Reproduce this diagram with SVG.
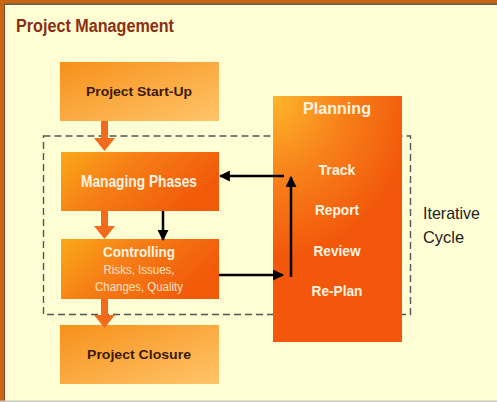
<svg xmlns="http://www.w3.org/2000/svg" width="497" height="402" viewBox="0 0 497 402">
<defs>
<linearGradient id="gEnd" x1="0" y1="0" x2="1" y2="1">
<stop offset="0" stop-color="#F7901A"/>
<stop offset="1" stop-color="#FFC56A"/>
</linearGradient>
<linearGradient id="gMid" x1="0" y1="0" x2="1" y2="0.4">
<stop offset="0" stop-color="#FBA919"/>
<stop offset="0.45" stop-color="#F67E16"/>
<stop offset="1" stop-color="#F25A0A"/>
</linearGradient>
<radialGradient id="gPlan" cx="0" cy="0" r="1.1" gradientTransform="scale(1,0.6)">
<stop offset="0" stop-color="#FDB62B"/>
<stop offset="0.5" stop-color="#F8811A"/>
<stop offset="1" stop-color="#F2570B"/>
</radialGradient>
<marker id="ah" viewBox="0 0 10 10" refX="9" refY="5" markerWidth="4.4" markerHeight="4.4" orient="auto" markerUnits="strokeWidth">
<path d="M0,0 L10,5 L0,10 z" fill="#000"/>
</marker>
<style>
.dark{font-family:"Liberation Sans",Arial,sans-serif;font-weight:bold;fill:#3A1A08;text-anchor:middle;}
.wt{font-family:"Liberation Sans",Arial,sans-serif;font-weight:bold;fill:#FFF4E0;text-anchor:middle;}
.sub{font-family:"Liberation Sans",Arial,sans-serif;fill:#FFE2C4;text-anchor:middle;}
.oarrow{fill:#F26A1B;}
.blk{stroke:#000;stroke-width:2.5;fill:none;marker-end:url(#ah);}
</style>
</defs>
<rect x="0" y="0" width="497" height="402" fill="#FFFDD4"/>
<rect x="0" y="0" width="497" height="3.5" fill="#CC6612"/>
<rect x="0" y="3.5" width="497" height="1.2" fill="#2A1A10"/>
<rect x="0" y="0" width="4" height="402" fill="#CC6612"/>
<rect x="4" y="4" width="1" height="398" fill="#7A4A20"/>
<rect x="0" y="400.5" width="497" height="1.5" fill="#C8C8C0"/>
<text x="16" y="32" font-family="'Liberation Sans',Arial,sans-serif" font-weight="bold" font-size="18" fill="#8C2E12" textLength="158" lengthAdjust="spacingAndGlyphs">Project Management</text>

<g id="iterative-cycle">
<rect x="43.5" y="136" width="367" height="178.5" fill="none" stroke="#555" stroke-width="1.4" stroke-dasharray="7,4"/>
</g>

<g id="planning">
<rect x="273" y="96" width="129" height="246" fill="url(#gPlan)"/>
<text class="wt" x="337" y="114" font-size="17" textLength="68" lengthAdjust="spacingAndGlyphs">Planning</text>
<text class="wt" x="337" y="175" font-size="15" textLength="37" lengthAdjust="spacingAndGlyphs">Track</text>
<text class="wt" x="337" y="215" font-size="15" textLength="44" lengthAdjust="spacingAndGlyphs">Report</text>
<text class="wt" x="337" y="256" font-size="15" textLength="47" lengthAdjust="spacingAndGlyphs">Review</text>
<text class="wt" x="337" y="296" font-size="15" textLength="51" lengthAdjust="spacingAndGlyphs">Re-Plan</text>
</g>

<g id="start-up">
<rect x="60" y="62" width="159" height="59" fill="url(#gEnd)"/>
<text class="dark" x="139" y="96" font-size="13.5" textLength="106" lengthAdjust="spacingAndGlyphs">Project Start-Up</text>
</g>

<g id="managing-phases">
<rect x="61" y="152" width="158" height="59" fill="url(#gMid)"/>
<text class="wt" x="139" y="187" font-size="16" textLength="116" lengthAdjust="spacingAndGlyphs">Managing Phases</text>
</g>

<g id="controlling">
<rect x="61" y="239" width="158" height="60" fill="url(#gMid)"/>
<text class="wt" x="139" y="257" font-size="15" textLength="72" lengthAdjust="spacingAndGlyphs">Controlling</text>
<text class="sub" x="139" y="274" font-size="12" textLength="71" lengthAdjust="spacingAndGlyphs">Risks, Issues,</text>
<text class="sub" x="139" y="291" font-size="12" textLength="88" lengthAdjust="spacingAndGlyphs">Changes, Quality</text>
</g>

<g id="closure">
<rect x="60" y="325" width="159" height="59" fill="url(#gEnd)"/>
<text class="dark" x="139" y="359" font-size="13.5" textLength="104" lengthAdjust="spacingAndGlyphs">Project Closure</text>
</g>

<g id="iterative-label" font-family="'Liberation Sans',Arial,sans-serif" font-size="17" fill="#222">
<text x="423" y="219" textLength="57" lengthAdjust="spacingAndGlyphs">Iterative</text>
<text x="423" y="243" textLength="41" lengthAdjust="spacingAndGlyphs">Cycle</text>
</g>

<g id="connectors">
<polygon class="oarrow" points="101,121 108,121 108,138 115,138 104.5,151 94,138 101,138"/>
<polygon class="oarrow" points="101,211 108,211 108,226 115,226 104.5,239 94,226 101,226"/>
<polygon class="oarrow" points="101,299 108,299 108,315 115,315 104.5,328 94,315 101,315"/>
<line class="blk" x1="163" y1="211" x2="163" y2="240"/>
<line class="blk" x1="284" y1="176" x2="220" y2="176"/>
<line class="blk" x1="291" y1="277" x2="291" y2="177"/>
<line class="blk" x1="219" y1="275" x2="283" y2="275"/>
</g>
</svg>
